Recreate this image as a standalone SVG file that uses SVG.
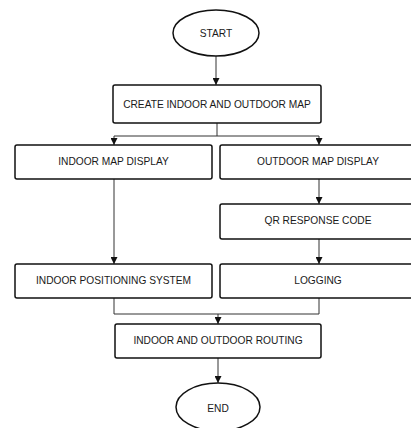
<svg xmlns="http://www.w3.org/2000/svg" width="411" height="428" viewBox="0 0 411 428">
<style>
.box{fill:#fff;stroke:#111;stroke-width:1.5}
.t{font-family:"Liberation Sans",Arial,sans-serif;font-size:10.2px;fill:#1a1a1a;text-anchor:middle;dominant-baseline:central}
.c{fill:none;stroke:#333;stroke-width:1}
</style>
<defs>
<marker id="ah" viewBox="0 0 10 10" refX="10" refY="5" markerWidth="7" markerHeight="7" markerUnits="userSpaceOnUse" orient="auto">
<path d="M0,0 L10,5 L0,10 Z" fill="#111"/>
</marker>
</defs>
<rect width="411" height="428" fill="#fff"/>
<g id="connectors">
<path class="c" d="M216,56 V85" marker-end="url(#ah)"/>
<path class="c" d="M217,123 V136"/>
<path class="c" d="M114,136 H319"/>
<path class="c" d="M114,136 V145" marker-end="url(#ah)"/>
<path class="c" d="M319,136 V145" marker-end="url(#ah)"/>
<path class="c" d="M319,179 V204" marker-end="url(#ah)"/>
<path class="c" d="M114,179 V264" marker-end="url(#ah)"/>
<path class="c" d="M319,239 V264" marker-end="url(#ah)"/>
<path class="c" d="M114,298 V314 H319 V298"/>
<path class="c" d="M218,314 V324" marker-end="url(#ah)"/>
<path class="c" d="M218,358 V383" marker-end="url(#ah)"/>
</g>
<g id="start">
<ellipse class="box" cx="216" cy="33" rx="43" ry="23"/>
<text class="t" x="216" y="33">START</text>
</g>
<g id="create">
<rect class="box" x="113" y="85" width="208" height="38" rx="2"/>
<text class="t" x="217" y="104">CREATE INDOOR AND OUTDOOR MAP</text>
</g>
<g id="indoor-map">
<rect class="box" x="15" y="145" width="197" height="34" rx="2"/>
<text class="t" x="113.5" y="161">INDOOR MAP DISPLAY</text>
</g>
<g id="outdoor-map">
<rect class="box" x="220" y="145" width="196" height="34" rx="2"/>
<text class="t" x="318" y="161">OUTDOOR MAP DISPLAY</text>
</g>
<g id="qr">
<rect class="box" x="220" y="204" width="196" height="35" rx="2"/>
<text class="t" x="318" y="220.5">QR RESPONSE CODE</text>
</g>
<g id="ips">
<rect class="box" x="15" y="264" width="197" height="34" rx="2"/>
<text class="t" x="113.5" y="280">INDOOR POSITIONING SYSTEM</text>
</g>
<g id="logging">
<rect class="box" x="220" y="264" width="196" height="34" rx="2"/>
<text class="t" x="318" y="280">LOGGING</text>
</g>
<g id="routing">
<rect class="box" x="115" y="324" width="206" height="34" rx="2"/>
<text class="t" x="218" y="340">INDOOR AND OUTDOOR ROUTING</text>
</g>
<g id="end">
<ellipse class="box" cx="218" cy="407" rx="42" ry="24"/>
<text class="t" x="218" y="408">END</text>
</g>
</svg>
